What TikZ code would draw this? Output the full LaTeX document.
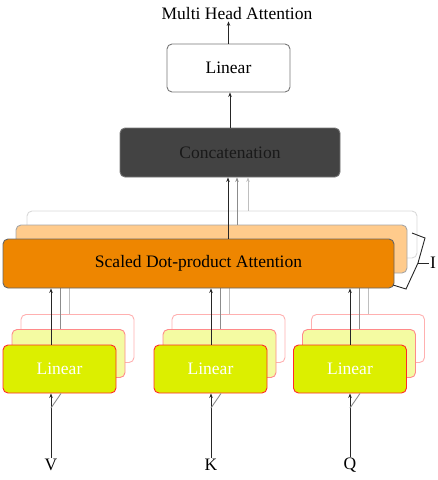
\documentclass[tikz,border=0pt]{standalone}
\usepackage{fontspec}
\setmainfont{Liberation Serif}
\usetikzlibrary{arrows.meta}
\definecolor{bord}{HTML}{777777}
\definecolor{catgray}{HTML}{434343}
\definecolor{orD}{HTML}{EE8600}
\definecolor{orL}{HTML}{FFCB8C}
\definecolor{ylF}{HTML}{DCEF00}
\definecolor{ylM}{HTML}{F4FBA2}
\definecolor{rdF}{HTML}{FF2A2A}
\definecolor{rdM}{HTML}{FF8A8A}
\definecolor{rdB}{HTML}{FFB0B0}
\begin{document}
\begin{tikzpicture}[x=1pt,y=-1pt,
  font=\fontsize{17.5}{19}\selectfont,
  box/.style={draw=bord, line width=0.9pt, rounded corners=5pt, inner sep=0pt},
  lbox/.style={box, minimum width=113pt, minimum height=48pt},
  arr/.style={-{Stealth[length=4.5pt,width=3.5pt]}, line width=0.9pt, draw=black!85},
  gA/.style={line width=0.9pt, draw=black!45},
  gB/.style={line width=0.9pt, draw=black!25},
  lab/.style={inner sep=1pt}]
\useasboundingbox (0,0) rectangle (438,480);

% top part
\node[lab] (mha) at (237,14) {Multi Head Attention};
\node[box, fill=white, minimum width=123pt, minimum height=48pt] (lin) at (228.5,68) {Linear};
\node[box, fill=catgray, text=black!90, minimum width=220pt, minimum height=49pt] (cat) at (230,152.5) {Concatenation};
\coordinate (xl) at (230,0);
\coordinate (xc0) at (228,0);
\coordinate (xc1) at (237,0);
\coordinate (xc2) at (248,0);

\foreach \n/\c in {v/51,k/211,q/350}{
  \coordinate (C\n) at (\c,0);
  \coordinate (G\n) at (\c+9,0);
  \coordinate (H\n) at (\c+18,0);
  \coordinate (D\n) at (\c+10,0);
  \coordinate (E\n) at (\c,408);
}

% scaled dot-product attention stack
\node[box, draw=black!15, fill=white, minimum width=390pt, minimum height=47pt] (sb) at (222,234.5) {};
\node[box, draw=black!35, fill=orL, minimum width=391pt, minimum height=48pt] (sm) at (211.5,249) {};
\draw[gB, -{Stealth[length=4.5pt,width=3.5pt]}] (sb.north -| xc2) -- (cat.south -| xc2);
\draw[gA, -{Stealth[length=4.5pt,width=3.5pt]}] (sm.north -| xc1) -- (cat.south -| xc1);

% linear stacks
\foreach \n/\x in {v/59.5,k/210.5,q/350}{
  \node[lbox, draw=rdB, fill=white] (B\n) at (\x+18,338.5) {};
  \draw[gB] (B\n.north -| H\n) -- (sb.south -| H\n);
  \node[lbox, draw=rdM, fill=ylM] (M\n) at (\x+9,353.5) {};
  \draw[gA] (M\n.north -| G\n) -- (sm.south -| G\n);
  \node[lbox, draw=rdF, fill=ylF, text=white] (F\n) at (\x,369) {Linear};
}

\node[box, draw=black!60, fill=orD, minimum width=391pt, minimum height=49pt] (sf) at (198.5,263.5) {Scaled Dot-product Attention};

% black arrows
\draw[arr] (lin.north) -- (mha.south -| lin.north);
\draw[arr] (cat.north -| xl) -- (lin.south -| xl);
\draw[arr] (sf.north -| xc0) -- (cat.south -| xc0);

\foreach \n/\lab in {v/V,k/K,q/Q}{
  \node[lab] (I\n) at (C\n |- 0,465) {\lab};
  \draw[arr] (F\n.north -| C\n) -- (sf.south -| C\n);
  \draw[arr] (I\n.north) -- (F\n.south -| C\n);
  \draw[gA] (E\n) -- (F\n.south -| D\n);
}

% brace
\coordinate (br1) at (412,233);
\coordinate (br2) at (425,238);
\coordinate (br3) at (418,263);
\coordinate (br4) at (406,289);
\coordinate (br5) at (393,285);
\draw[line width=0.9pt, black!85] (br1) -- (br2) -- (br3) -- (br4) -- (br5);
\node[lab, anchor=west] (hI) at (429,263) {I};
\draw[line width=0.9pt, black!85] (br3) -- (hI.west);
\end{tikzpicture}
\end{document}
